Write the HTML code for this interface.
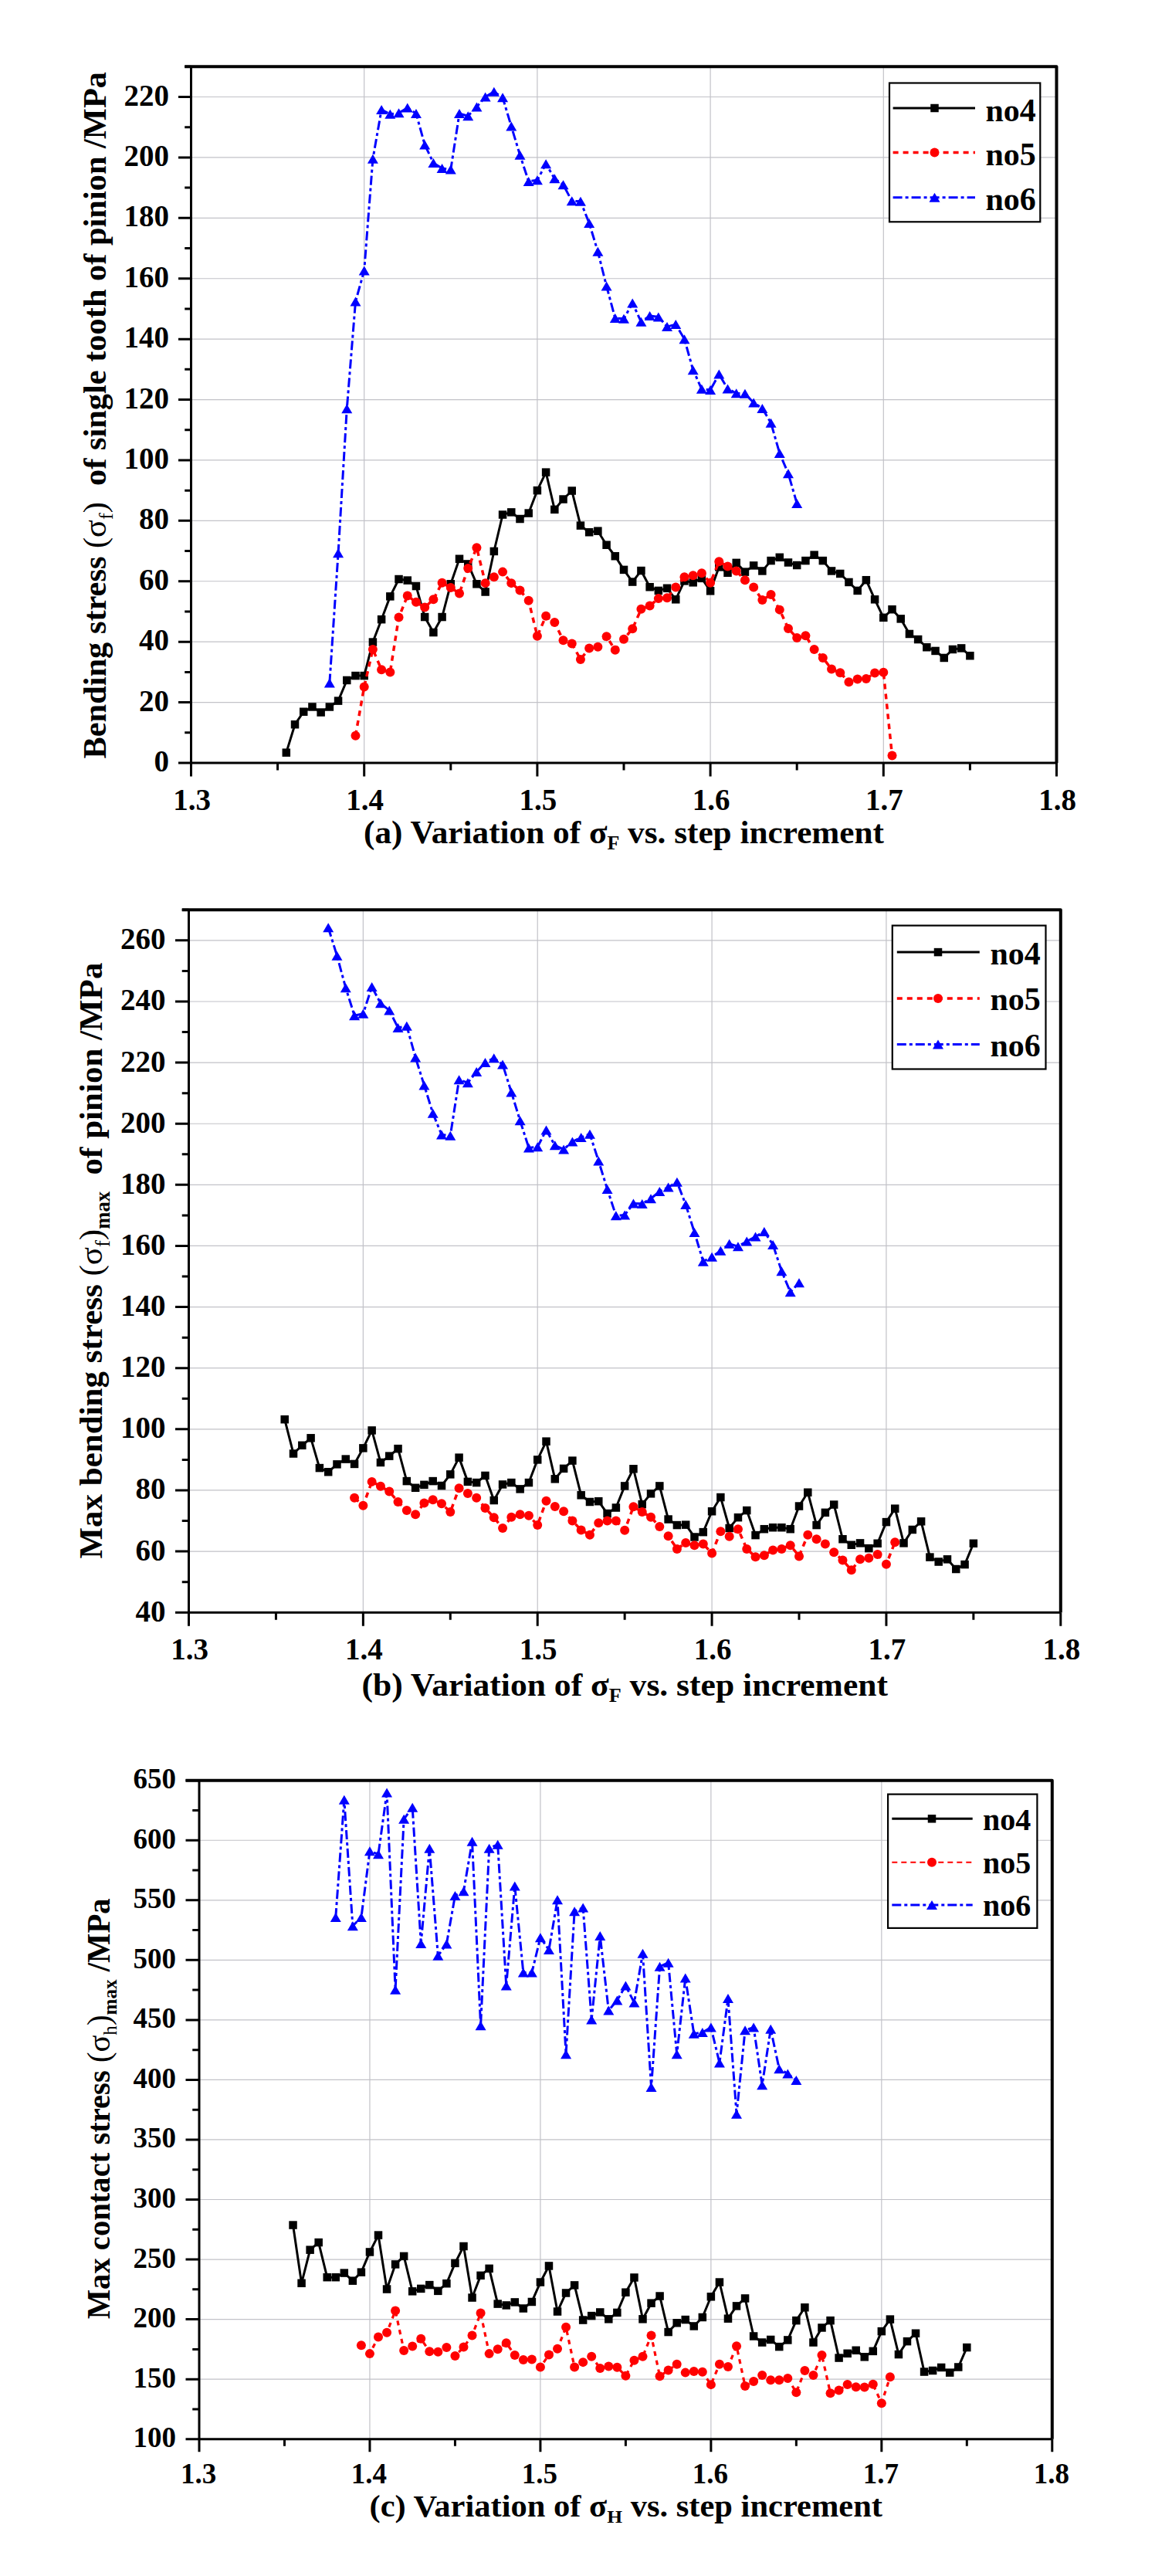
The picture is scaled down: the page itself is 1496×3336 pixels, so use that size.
<!DOCTYPE html><html><head><meta charset="utf-8"><title>Stress variation charts</title><style>html,body{margin:0;padding:0;background:#fff;}body{width:1496px;height:3336px;overflow:hidden;}svg{display:block;}</style></head><body><svg width="1496" height="3336" viewBox="0 0 1496 3336"><rect width="1496" height="3336" fill="#fff"/><path d="M471.7 86.3V988M695.9 86.3V988M920.1 86.3V988M1144.3 86.3V988M247.5 909.59H1368.5M247.5 831.18H1368.5M247.5 752.77H1368.5M247.5 674.37H1368.5M247.5 595.96H1368.5M247.5 517.55H1368.5M247.5 439.14H1368.5M247.5 360.73H1368.5M247.5 282.32H1368.5M247.5 203.91H1368.5M247.5 125.5H1368.5" stroke="#c2c2c8" stroke-width="1.2" fill="none"/>
<path d="M231 988H247.5M239.25 948.8H247.5M231 909.59H247.5M239.25 870.39H247.5M231 831.18H247.5M239.25 791.98H247.5M231 752.77H247.5M239.25 713.57H247.5M231 674.37H247.5M239.25 635.16H247.5M231 595.96H247.5M239.25 556.75H247.5M231 517.55H247.5M239.25 478.34H247.5M231 439.14H247.5M239.25 399.93H247.5M231 360.73H247.5M239.25 321.53H247.5M231 282.32H247.5M239.25 243.12H247.5M231 203.91H247.5M239.25 164.71H247.5M231 125.5H247.5M239.25 86.3H247.5M247.5 988V1005.5M359.6 988V997.62M471.7 988V1005.5M583.8 988V997.62M695.9 988V1005.5M808 988V997.62M920.1 988V1005.5M1032.2 988V997.62M1144.3 988V1005.5M1256.4 988V997.62M1368.5 988V1005.5" stroke="#000" stroke-width="3" fill="none"/>
<path d="M247.5 86.3V988M247.5 988H1368.5" stroke="#000" stroke-width="3" fill="none"/>
<path d="M239.25 86.3H1368.5V988" stroke="#000" stroke-width="4" fill="none" stroke-linejoin="round"/>
<g font-family='"Liberation Serif", serif' font-weight="bold" font-size="39"><text x="219" y="999" text-anchor="end">0</text><text x="219" y="920.59" text-anchor="end">20</text><text x="219" y="842.18" text-anchor="end">40</text><text x="219" y="763.77" text-anchor="end">60</text><text x="219" y="685.37" text-anchor="end">80</text><text x="219" y="606.96" text-anchor="end">100</text><text x="219" y="528.55" text-anchor="end">120</text><text x="219" y="450.14" text-anchor="end">140</text><text x="219" y="371.73" text-anchor="end">160</text><text x="219" y="293.32" text-anchor="end">180</text><text x="219" y="214.91" text-anchor="end">200</text><text x="219" y="136.5" text-anchor="end">220</text><text x="248.5" y="1048.5" text-anchor="middle">1.3</text><text x="472.7" y="1048.5" text-anchor="middle">1.4</text><text x="696.9" y="1048.5" text-anchor="middle">1.5</text><text x="921.1" y="1048.5" text-anchor="middle">1.6</text><text x="1145.3" y="1048.5" text-anchor="middle">1.7</text><text x="1369.5" y="1048.5" text-anchor="middle">1.8</text></g>
<path d="M370.81 974.67L382.02 938.21L393.23 921.74L404.44 915.47L415.65 922.53L426.86 915.47L438.07 907.63L449.28 880.97L460.49 875.09L471.7 875.09L482.91 831.57L494.12 802.17L505.33 772.38L516.54 750.03L527.75 751.6L538.96 759.05L550.17 799.04L561.38 819.03L572.59 799.04L583.8 756.3L595.01 723.76L606.22 730.43L617.43 756.3L628.64 766.5L639.85 713.96L651.06 666.52L662.27 663.39L673.48 672.01L684.69 664.56L695.9 635.16L707.11 611.64L718.32 659.86L729.53 646.53L740.74 635.55L751.95 680.64L763.16 689.26L774.37 687.69L785.58 705.73L796.79 720.23L808 737.88L819.21 753.56L830.42 739.05L841.63 760.22L852.84 764.93L864.05 761.79L875.26 776.3L886.47 752.38L897.68 754.34L908.89 748.85L920.1 765.32L931.31 734.35L942.52 741.8L953.73 728.86L964.94 740.62L976.15 732.39L987.36 739.44L998.57 726.11L1009.78 721.8L1020.99 728.47L1032.2 732L1043.41 726.11L1054.62 718.67L1065.83 726.11L1077.04 739.44L1088.25 742.97L1099.46 753.95L1110.67 764.93L1121.88 751.21L1133.09 776.3L1144.3 799.82L1155.51 789.23L1166.72 801.39L1177.93 820.99L1189.14 828.05L1200.35 838.24L1211.56 842.94L1222.77 851.96L1233.98 840.98L1245.19 839.42L1256.4 849.22" stroke="#000" stroke-width="3" fill="none" stroke-linejoin="round"/>
<g><rect x="365.56" y="969.42" width="10.5" height="10.5" fill="#000"/><rect x="376.77" y="932.96" width="10.5" height="10.5" fill="#000"/><rect x="387.98" y="916.49" width="10.5" height="10.5" fill="#000"/><rect x="399.19" y="910.22" width="10.5" height="10.5" fill="#000"/><rect x="410.4" y="917.28" width="10.5" height="10.5" fill="#000"/><rect x="421.61" y="910.22" width="10.5" height="10.5" fill="#000"/><rect x="432.82" y="902.38" width="10.5" height="10.5" fill="#000"/><rect x="444.03" y="875.72" width="10.5" height="10.5" fill="#000"/><rect x="455.24" y="869.84" width="10.5" height="10.5" fill="#000"/><rect x="466.45" y="869.84" width="10.5" height="10.5" fill="#000"/><rect x="477.66" y="826.32" width="10.5" height="10.5" fill="#000"/><rect x="488.87" y="796.92" width="10.5" height="10.5" fill="#000"/><rect x="500.08" y="767.13" width="10.5" height="10.5" fill="#000"/><rect x="511.29" y="744.78" width="10.5" height="10.5" fill="#000"/><rect x="522.5" y="746.35" width="10.5" height="10.5" fill="#000"/><rect x="533.71" y="753.8" width="10.5" height="10.5" fill="#000"/><rect x="544.92" y="793.79" width="10.5" height="10.5" fill="#000"/><rect x="556.13" y="813.78" width="10.5" height="10.5" fill="#000"/><rect x="567.34" y="793.79" width="10.5" height="10.5" fill="#000"/><rect x="578.55" y="751.05" width="10.5" height="10.5" fill="#000"/><rect x="589.76" y="718.51" width="10.5" height="10.5" fill="#000"/><rect x="600.97" y="725.18" width="10.5" height="10.5" fill="#000"/><rect x="612.18" y="751.05" width="10.5" height="10.5" fill="#000"/><rect x="623.39" y="761.25" width="10.5" height="10.5" fill="#000"/><rect x="634.6" y="708.71" width="10.5" height="10.5" fill="#000"/><rect x="645.81" y="661.27" width="10.5" height="10.5" fill="#000"/><rect x="657.02" y="658.14" width="10.5" height="10.5" fill="#000"/><rect x="668.23" y="666.76" width="10.5" height="10.5" fill="#000"/><rect x="679.44" y="659.31" width="10.5" height="10.5" fill="#000"/><rect x="690.65" y="629.91" width="10.5" height="10.5" fill="#000"/><rect x="701.86" y="606.39" width="10.5" height="10.5" fill="#000"/><rect x="713.07" y="654.61" width="10.5" height="10.5" fill="#000"/><rect x="724.28" y="641.28" width="10.5" height="10.5" fill="#000"/><rect x="735.49" y="630.3" width="10.5" height="10.5" fill="#000"/><rect x="746.7" y="675.39" width="10.5" height="10.5" fill="#000"/><rect x="757.91" y="684.01" width="10.5" height="10.5" fill="#000"/><rect x="769.12" y="682.44" width="10.5" height="10.5" fill="#000"/><rect x="780.33" y="700.48" width="10.5" height="10.5" fill="#000"/><rect x="791.54" y="714.98" width="10.5" height="10.5" fill="#000"/><rect x="802.75" y="732.63" width="10.5" height="10.5" fill="#000"/><rect x="813.96" y="748.31" width="10.5" height="10.5" fill="#000"/><rect x="825.17" y="733.8" width="10.5" height="10.5" fill="#000"/><rect x="836.38" y="754.97" width="10.5" height="10.5" fill="#000"/><rect x="847.59" y="759.68" width="10.5" height="10.5" fill="#000"/><rect x="858.8" y="756.54" width="10.5" height="10.5" fill="#000"/><rect x="870.01" y="771.05" width="10.5" height="10.5" fill="#000"/><rect x="881.22" y="747.13" width="10.5" height="10.5" fill="#000"/><rect x="892.43" y="749.09" width="10.5" height="10.5" fill="#000"/><rect x="903.64" y="743.6" width="10.5" height="10.5" fill="#000"/><rect x="914.85" y="760.07" width="10.5" height="10.5" fill="#000"/><rect x="926.06" y="729.1" width="10.5" height="10.5" fill="#000"/><rect x="937.27" y="736.55" width="10.5" height="10.5" fill="#000"/><rect x="948.48" y="723.61" width="10.5" height="10.5" fill="#000"/><rect x="959.69" y="735.37" width="10.5" height="10.5" fill="#000"/><rect x="970.9" y="727.14" width="10.5" height="10.5" fill="#000"/><rect x="982.11" y="734.19" width="10.5" height="10.5" fill="#000"/><rect x="993.32" y="720.86" width="10.5" height="10.5" fill="#000"/><rect x="1004.53" y="716.55" width="10.5" height="10.5" fill="#000"/><rect x="1015.74" y="723.22" width="10.5" height="10.5" fill="#000"/><rect x="1026.95" y="726.75" width="10.5" height="10.5" fill="#000"/><rect x="1038.16" y="720.86" width="10.5" height="10.5" fill="#000"/><rect x="1049.37" y="713.42" width="10.5" height="10.5" fill="#000"/><rect x="1060.58" y="720.86" width="10.5" height="10.5" fill="#000"/><rect x="1071.79" y="734.19" width="10.5" height="10.5" fill="#000"/><rect x="1083" y="737.72" width="10.5" height="10.5" fill="#000"/><rect x="1094.21" y="748.7" width="10.5" height="10.5" fill="#000"/><rect x="1105.42" y="759.68" width="10.5" height="10.5" fill="#000"/><rect x="1116.63" y="745.96" width="10.5" height="10.5" fill="#000"/><rect x="1127.84" y="771.05" width="10.5" height="10.5" fill="#000"/><rect x="1139.05" y="794.57" width="10.5" height="10.5" fill="#000"/><rect x="1150.26" y="783.98" width="10.5" height="10.5" fill="#000"/><rect x="1161.47" y="796.14" width="10.5" height="10.5" fill="#000"/><rect x="1172.68" y="815.74" width="10.5" height="10.5" fill="#000"/><rect x="1183.89" y="822.8" width="10.5" height="10.5" fill="#000"/><rect x="1195.1" y="832.99" width="10.5" height="10.5" fill="#000"/><rect x="1206.31" y="837.69" width="10.5" height="10.5" fill="#000"/><rect x="1217.52" y="846.71" width="10.5" height="10.5" fill="#000"/><rect x="1228.73" y="835.73" width="10.5" height="10.5" fill="#000"/><rect x="1239.94" y="834.17" width="10.5" height="10.5" fill="#000"/><rect x="1251.15" y="843.97" width="10.5" height="10.5" fill="#000"/></g>
<path d="M460.49 952.72L471.7 889.6L482.91 840.98L494.12 867.25L505.33 870.39L516.54 799.43L527.75 771.59L538.96 779.82L550.17 786.49L561.38 776.3L572.59 754.73L583.8 761.01L595.01 768.46L606.22 735.92L617.43 709.26L628.64 755.13L639.85 747.29L651.06 740.62L662.27 755.13L673.48 764.54L684.69 777.86L695.9 823.73L707.11 797.86L718.32 806.09L729.53 829.22L740.74 833.53L751.95 853.92L763.16 839.42L774.37 837.85L785.58 824.13L796.79 841.77L808 827.65L819.21 814.32L830.42 788.84L841.63 784.53L852.84 775.12L864.05 774.34L875.26 760.61L886.47 747.29L897.68 745.33L908.89 742.19L920.1 754.73L931.31 727.29L942.52 733.56L953.73 739.44L964.94 751.21L976.15 760.61L987.36 777.08L998.57 770.02L1009.78 789.63L1020.99 813.93L1032.2 826.09L1043.41 823.34L1054.62 840.98L1065.83 851.96L1077.04 866.47L1088.25 871.17L1099.46 883.32L1110.67 879.4L1121.88 879.01L1133.09 871.56L1144.3 870.78L1155.51 978.59" stroke="#f00" stroke-width="3.5" stroke-dasharray="7 6" fill="none"/>
<g><circle cx="460.49" cy="952.72" r="6" fill="#f00"/><circle cx="471.7" cy="889.6" r="6" fill="#f00"/><circle cx="482.91" cy="840.98" r="6" fill="#f00"/><circle cx="494.12" cy="867.25" r="6" fill="#f00"/><circle cx="505.33" cy="870.39" r="6" fill="#f00"/><circle cx="516.54" cy="799.43" r="6" fill="#f00"/><circle cx="527.75" cy="771.59" r="6" fill="#f00"/><circle cx="538.96" cy="779.82" r="6" fill="#f00"/><circle cx="550.17" cy="786.49" r="6" fill="#f00"/><circle cx="561.38" cy="776.3" r="6" fill="#f00"/><circle cx="572.59" cy="754.73" r="6" fill="#f00"/><circle cx="583.8" cy="761.01" r="6" fill="#f00"/><circle cx="595.01" cy="768.46" r="6" fill="#f00"/><circle cx="606.22" cy="735.92" r="6" fill="#f00"/><circle cx="617.43" cy="709.26" r="6" fill="#f00"/><circle cx="628.64" cy="755.13" r="6" fill="#f00"/><circle cx="639.85" cy="747.29" r="6" fill="#f00"/><circle cx="651.06" cy="740.62" r="6" fill="#f00"/><circle cx="662.27" cy="755.13" r="6" fill="#f00"/><circle cx="673.48" cy="764.54" r="6" fill="#f00"/><circle cx="684.69" cy="777.86" r="6" fill="#f00"/><circle cx="695.9" cy="823.73" r="6" fill="#f00"/><circle cx="707.11" cy="797.86" r="6" fill="#f00"/><circle cx="718.32" cy="806.09" r="6" fill="#f00"/><circle cx="729.53" cy="829.22" r="6" fill="#f00"/><circle cx="740.74" cy="833.53" r="6" fill="#f00"/><circle cx="751.95" cy="853.92" r="6" fill="#f00"/><circle cx="763.16" cy="839.42" r="6" fill="#f00"/><circle cx="774.37" cy="837.85" r="6" fill="#f00"/><circle cx="785.58" cy="824.13" r="6" fill="#f00"/><circle cx="796.79" cy="841.77" r="6" fill="#f00"/><circle cx="808" cy="827.65" r="6" fill="#f00"/><circle cx="819.21" cy="814.32" r="6" fill="#f00"/><circle cx="830.42" cy="788.84" r="6" fill="#f00"/><circle cx="841.63" cy="784.53" r="6" fill="#f00"/><circle cx="852.84" cy="775.12" r="6" fill="#f00"/><circle cx="864.05" cy="774.34" r="6" fill="#f00"/><circle cx="875.26" cy="760.61" r="6" fill="#f00"/><circle cx="886.47" cy="747.29" r="6" fill="#f00"/><circle cx="897.68" cy="745.33" r="6" fill="#f00"/><circle cx="908.89" cy="742.19" r="6" fill="#f00"/><circle cx="920.1" cy="754.73" r="6" fill="#f00"/><circle cx="931.31" cy="727.29" r="6" fill="#f00"/><circle cx="942.52" cy="733.56" r="6" fill="#f00"/><circle cx="953.73" cy="739.44" r="6" fill="#f00"/><circle cx="964.94" cy="751.21" r="6" fill="#f00"/><circle cx="976.15" cy="760.61" r="6" fill="#f00"/><circle cx="987.36" cy="777.08" r="6" fill="#f00"/><circle cx="998.57" cy="770.02" r="6" fill="#f00"/><circle cx="1009.78" cy="789.63" r="6" fill="#f00"/><circle cx="1020.99" cy="813.93" r="6" fill="#f00"/><circle cx="1032.2" cy="826.09" r="6" fill="#f00"/><circle cx="1043.41" cy="823.34" r="6" fill="#f00"/><circle cx="1054.62" cy="840.98" r="6" fill="#f00"/><circle cx="1065.83" cy="851.96" r="6" fill="#f00"/><circle cx="1077.04" cy="866.47" r="6" fill="#f00"/><circle cx="1088.25" cy="871.17" r="6" fill="#f00"/><circle cx="1099.46" cy="883.32" r="6" fill="#f00"/><circle cx="1110.67" cy="879.4" r="6" fill="#f00"/><circle cx="1121.88" cy="879.01" r="6" fill="#f00"/><circle cx="1133.09" cy="871.56" r="6" fill="#f00"/><circle cx="1144.3" cy="870.78" r="6" fill="#f00"/><circle cx="1155.51" cy="978.59" r="6" fill="#f00"/></g>
<path d="M426.86 884.5L438.07 716.31L449.28 529.31L460.49 390.53L471.7 350.54L482.91 205.87L494.12 141.97L505.33 147.85L516.54 146.28L527.75 139.62L538.96 147.07L550.17 187.45L561.38 210.97L572.59 218.03L583.8 219.59L595.01 147.07L606.22 150.2L617.43 138.44L628.64 125.5L639.85 118.84L651.06 126.29L662.27 163.53L673.48 200.78L684.69 234.88L695.9 233.32L707.11 212.15L718.32 231.36L729.53 239.2L740.74 260.37L751.95 260.76L763.16 288.99L774.37 325.84L785.58 370.53L796.79 412.09L808 412.87L819.21 392.49L830.42 416.79L841.63 408.95L852.84 410.52L864.05 423.07L875.26 419.93L886.47 439.14L897.68 479.13L908.89 503.83L920.1 505L931.31 484.62L942.52 503.43L953.73 509.31L964.94 509.71L976.15 521.47L987.36 528.92L998.57 547.74L1009.78 586.94L1020.99 613.21L1032.2 652.02" stroke="#00f" stroke-width="3" stroke-dasharray="12 4 4 4" fill="none"/>
<g><path d="M426.86 878.5L433.86 890.5L419.86 890.5Z" fill="#00f"/><path d="M438.07 710.31L445.07 722.31L431.07 722.31Z" fill="#00f"/><path d="M449.28 523.31L456.28 535.31L442.28 535.31Z" fill="#00f"/><path d="M460.49 384.53L467.49 396.53L453.49 396.53Z" fill="#00f"/><path d="M471.7 344.54L478.7 356.54L464.7 356.54Z" fill="#00f"/><path d="M482.91 199.87L489.91 211.87L475.91 211.87Z" fill="#00f"/><path d="M494.12 135.97L501.12 147.97L487.12 147.97Z" fill="#00f"/><path d="M505.33 141.85L512.33 153.85L498.33 153.85Z" fill="#00f"/><path d="M516.54 140.28L523.54 152.28L509.54 152.28Z" fill="#00f"/><path d="M527.75 133.62L534.75 145.62L520.75 145.62Z" fill="#00f"/><path d="M538.96 141.07L545.96 153.07L531.96 153.07Z" fill="#00f"/><path d="M550.17 181.45L557.17 193.45L543.17 193.45Z" fill="#00f"/><path d="M561.38 204.97L568.38 216.97L554.38 216.97Z" fill="#00f"/><path d="M572.59 212.03L579.59 224.03L565.59 224.03Z" fill="#00f"/><path d="M583.8 213.59L590.8 225.59L576.8 225.59Z" fill="#00f"/><path d="M595.01 141.07L602.01 153.07L588.01 153.07Z" fill="#00f"/><path d="M606.22 144.2L613.22 156.2L599.22 156.2Z" fill="#00f"/><path d="M617.43 132.44L624.43 144.44L610.43 144.44Z" fill="#00f"/><path d="M628.64 119.5L635.64 131.5L621.64 131.5Z" fill="#00f"/><path d="M639.85 112.84L646.85 124.84L632.85 124.84Z" fill="#00f"/><path d="M651.06 120.29L658.06 132.29L644.06 132.29Z" fill="#00f"/><path d="M662.27 157.53L669.27 169.53L655.27 169.53Z" fill="#00f"/><path d="M673.48 194.78L680.48 206.78L666.48 206.78Z" fill="#00f"/><path d="M684.69 228.88L691.69 240.88L677.69 240.88Z" fill="#00f"/><path d="M695.9 227.32L702.9 239.32L688.9 239.32Z" fill="#00f"/><path d="M707.11 206.15L714.11 218.15L700.11 218.15Z" fill="#00f"/><path d="M718.32 225.36L725.32 237.36L711.32 237.36Z" fill="#00f"/><path d="M729.53 233.2L736.53 245.2L722.53 245.2Z" fill="#00f"/><path d="M740.74 254.37L747.74 266.37L733.74 266.37Z" fill="#00f"/><path d="M751.95 254.76L758.95 266.76L744.95 266.76Z" fill="#00f"/><path d="M763.16 282.99L770.16 294.99L756.16 294.99Z" fill="#00f"/><path d="M774.37 319.84L781.37 331.84L767.37 331.84Z" fill="#00f"/><path d="M785.58 364.53L792.58 376.53L778.58 376.53Z" fill="#00f"/><path d="M796.79 406.09L803.79 418.09L789.79 418.09Z" fill="#00f"/><path d="M808 406.87L815 418.87L801 418.87Z" fill="#00f"/><path d="M819.21 386.49L826.21 398.49L812.21 398.49Z" fill="#00f"/><path d="M830.42 410.79L837.42 422.79L823.42 422.79Z" fill="#00f"/><path d="M841.63 402.95L848.63 414.95L834.63 414.95Z" fill="#00f"/><path d="M852.84 404.52L859.84 416.52L845.84 416.52Z" fill="#00f"/><path d="M864.05 417.07L871.05 429.07L857.05 429.07Z" fill="#00f"/><path d="M875.26 413.93L882.26 425.93L868.26 425.93Z" fill="#00f"/><path d="M886.47 433.14L893.47 445.14L879.47 445.14Z" fill="#00f"/><path d="M897.68 473.13L904.68 485.13L890.68 485.13Z" fill="#00f"/><path d="M908.89 497.83L915.89 509.83L901.89 509.83Z" fill="#00f"/><path d="M920.1 499L927.1 511L913.1 511Z" fill="#00f"/><path d="M931.31 478.62L938.31 490.62L924.31 490.62Z" fill="#00f"/><path d="M942.52 497.43L949.52 509.43L935.52 509.43Z" fill="#00f"/><path d="M953.73 503.31L960.73 515.31L946.73 515.31Z" fill="#00f"/><path d="M964.94 503.71L971.94 515.71L957.94 515.71Z" fill="#00f"/><path d="M976.15 515.47L983.15 527.47L969.15 527.47Z" fill="#00f"/><path d="M987.36 522.92L994.36 534.92L980.36 534.92Z" fill="#00f"/><path d="M998.57 541.74L1005.57 553.74L991.57 553.74Z" fill="#00f"/><path d="M1009.78 580.94L1016.78 592.94L1002.78 592.94Z" fill="#00f"/><path d="M1020.99 607.21L1027.99 619.21L1013.99 619.21Z" fill="#00f"/><path d="M1032.2 646.02L1039.2 658.02L1025.2 658.02Z" fill="#00f"/></g>
<rect x="1152" y="107.5" width="195.3" height="179.8" fill="#fff" stroke="#000" stroke-width="2.2"/>
<path d="M1156.6 140L1263 140" stroke="#000" stroke-width="3" fill="none" stroke-linejoin="round"/>
<rect x="1205.25" y="134.75" width="10.5" height="10.5" fill="#000"/>
<text x="1276.5" y="156.6" font-family='"Liberation Serif", serif' font-weight="bold" font-size="42">no4</text>
<path d="M1156.6 197.5L1263 197.5" stroke="#f00" stroke-width="3.5" stroke-dasharray="7 6" fill="none"/>
<circle cx="1210.5" cy="197.5" r="6" fill="#f00"/>
<text x="1276.5" y="213.8" font-family='"Liberation Serif", serif' font-weight="bold" font-size="42">no5</text>
<path d="M1156.6 255.7L1263 255.7" stroke="#00f" stroke-width="3" stroke-dasharray="12 4 4 4" fill="none"/>
<path d="M1210.5 249.7L1217.5 261.7L1203.5 261.7Z" fill="#00f"/>
<text x="1276.5" y="271.7" font-family='"Liberation Serif", serif' font-weight="bold" font-size="42">no6</text>
<text transform="translate(136.5 982.5) rotate(-90)" x="0" y="0" font-family='"Liberation Serif", serif' font-size="42" textLength="889.5" lengthAdjust="spacingAndGlyphs" xml:space="preserve"><tspan font-weight="bold" font-size="42">Bending stress </tspan><tspan font-weight="normal" font-size="42">(σ</tspan><tspan font-weight="normal" font-size="26.0" dy="9.2">f</tspan><tspan font-weight="normal" font-size="42" dy="-9.2">)</tspan><tspan font-weight="bold" font-size="42">  of single tooth of pinion /MPa</tspan></text>
<text x="471" y="1092" font-family='"Liberation Serif", serif' font-weight="bold" font-size="42" textLength="674" lengthAdjust="spacingAndGlyphs" xml:space="preserve"><tspan font-size="42">(a) Variation of σ</tspan><tspan font-size="25.2" dy="8.4">F</tspan><tspan font-size="42" dy="-8.4"> vs. step increment</tspan></text>
<path d="M470.36 1178.3V2088.2M696.22 1178.3V2088.2M922.08 1178.3V2088.2M1147.94 1178.3V2088.2M244.5 2009.08H1373.8M244.5 1929.96H1373.8M244.5 1850.83H1373.8M244.5 1771.71H1373.8M244.5 1692.59H1373.8M244.5 1613.47H1373.8M244.5 1534.35H1373.8M244.5 1455.23H1373.8M244.5 1376.1H1373.8M244.5 1296.98H1373.8M244.5 1217.86H1373.8" stroke="#c2c2c8" stroke-width="1.2" fill="none"/>
<path d="M227 2088.2H244.5M235.75 2048.64H244.5M227 2009.08H244.5M235.75 1969.52H244.5M227 1929.96H244.5M235.75 1890.4H244.5M227 1850.83H244.5M235.75 1811.27H244.5M227 1771.71H244.5M235.75 1732.15H244.5M227 1692.59H244.5M235.75 1653.03H244.5M227 1613.47H244.5M235.75 1573.91H244.5M227 1534.35H244.5M235.75 1494.79H244.5M227 1455.23H244.5M235.75 1415.67H244.5M227 1376.1H244.5M235.75 1336.54H244.5M227 1296.98H244.5M235.75 1257.42H244.5M227 1217.86H244.5M235.75 1178.3H244.5M244.5 2088.2V2105.7M357.43 2088.2V2097.82M470.36 2088.2V2105.7M583.29 2088.2V2097.82M696.22 2088.2V2105.7M809.15 2088.2V2097.82M922.08 2088.2V2105.7M1035.01 2088.2V2097.82M1147.94 2088.2V2105.7M1260.87 2088.2V2097.82M1373.8 2088.2V2105.7" stroke="#000" stroke-width="3" fill="none"/>
<path d="M244.5 1178.3V2088.2M244.5 2088.2H1373.8" stroke="#000" stroke-width="3" fill="none"/>
<path d="M235.75 1178.3H1373.8V2088.2" stroke="#000" stroke-width="4" fill="none" stroke-linejoin="round"/>
<g font-family='"Liberation Serif", serif' font-weight="bold" font-size="39"><text x="214.5" y="2099.7" text-anchor="end">40</text><text x="214.5" y="2020.58" text-anchor="end">60</text><text x="214.5" y="1941.46" text-anchor="end">80</text><text x="214.5" y="1862.33" text-anchor="end">100</text><text x="214.5" y="1783.21" text-anchor="end">120</text><text x="214.5" y="1704.09" text-anchor="end">140</text><text x="214.5" y="1624.97" text-anchor="end">160</text><text x="214.5" y="1545.85" text-anchor="end">180</text><text x="214.5" y="1466.73" text-anchor="end">200</text><text x="214.5" y="1387.6" text-anchor="end">220</text><text x="214.5" y="1308.48" text-anchor="end">240</text><text x="214.5" y="1229.36" text-anchor="end">260</text><text x="245.5" y="2148.6" text-anchor="middle">1.3</text><text x="471.36" y="2148.6" text-anchor="middle">1.4</text><text x="697.22" y="2148.6" text-anchor="middle">1.5</text><text x="923.08" y="2148.6" text-anchor="middle">1.6</text><text x="1148.94" y="2148.6" text-anchor="middle">1.7</text><text x="1374.8" y="2148.6" text-anchor="middle">1.8</text></g>
<path d="M368.72 1838.18L380.02 1882.48L391.31 1871.8L402.6 1862.31L413.89 1901.08L425.19 1906.22L436.48 1896.33L447.77 1889.6L459.07 1895.93L470.36 1875.36L481.65 1852.42L492.95 1893.96L504.24 1885.65L515.53 1876.15L526.83 1918.09L538.12 1926.79L549.41 1922.84L560.7 1918.09L572 1924.02L583.29 1909.38L594.58 1887.63L605.88 1918.88L617.17 1920.07L628.46 1910.97L639.76 1943.01L651.05 1922.44L662.34 1920.07L673.63 1928.37L684.93 1920.07L696.22 1890.4L707.51 1866.66L718.81 1915.32L730.1 1901.87L741.39 1891.58L752.68 1936.29L763.98 1944.99L775.27 1944.2L786.56 1960.02L797.86 1952.51L809.15 1924.42L820.44 1902.26L831.74 1948.15L843.03 1934.31L854.32 1924.42L865.61 1967.54L876.91 1975.06L888.2 1974.66L899.49 1990.48L910.79 1984.15L922.08 1957.25L933.37 1939.06L944.67 1979.01L955.96 1965.17L967.25 1956.07L978.54 1988.11L989.84 1980.2L1001.13 1978.22L1012.42 1978.22L1023.72 1980.2L1035.01 1950.53L1046.3 1932.73L1057.6 1975.06L1068.89 1958.84L1080.18 1948.55L1091.47 1993.25L1102.77 2000.77L1114.06 1998.4L1125.35 2005.12L1136.65 1998.79L1147.94 1971.1L1159.23 1953.69L1170.53 1998.4L1181.82 1980.99L1193.11 1970.31L1204.41 2016.59L1215.7 2022.53L1226.99 2019.36L1238.28 2032.02L1249.58 2026.09L1260.87 1998.79" stroke="#000" stroke-width="3" fill="none" stroke-linejoin="round"/>
<g><rect x="363.47" y="1832.93" width="10.5" height="10.5" fill="#000"/><rect x="374.77" y="1877.23" width="10.5" height="10.5" fill="#000"/><rect x="386.06" y="1866.55" width="10.5" height="10.5" fill="#000"/><rect x="397.35" y="1857.06" width="10.5" height="10.5" fill="#000"/><rect x="408.64" y="1895.83" width="10.5" height="10.5" fill="#000"/><rect x="419.94" y="1900.97" width="10.5" height="10.5" fill="#000"/><rect x="431.23" y="1891.08" width="10.5" height="10.5" fill="#000"/><rect x="442.52" y="1884.35" width="10.5" height="10.5" fill="#000"/><rect x="453.82" y="1890.68" width="10.5" height="10.5" fill="#000"/><rect x="465.11" y="1870.11" width="10.5" height="10.5" fill="#000"/><rect x="476.4" y="1847.17" width="10.5" height="10.5" fill="#000"/><rect x="487.7" y="1888.71" width="10.5" height="10.5" fill="#000"/><rect x="498.99" y="1880.4" width="10.5" height="10.5" fill="#000"/><rect x="510.28" y="1870.9" width="10.5" height="10.5" fill="#000"/><rect x="521.58" y="1912.84" width="10.5" height="10.5" fill="#000"/><rect x="532.87" y="1921.54" width="10.5" height="10.5" fill="#000"/><rect x="544.16" y="1917.59" width="10.5" height="10.5" fill="#000"/><rect x="555.45" y="1912.84" width="10.5" height="10.5" fill="#000"/><rect x="566.75" y="1918.77" width="10.5" height="10.5" fill="#000"/><rect x="578.04" y="1904.13" width="10.5" height="10.5" fill="#000"/><rect x="589.33" y="1882.38" width="10.5" height="10.5" fill="#000"/><rect x="600.63" y="1913.63" width="10.5" height="10.5" fill="#000"/><rect x="611.92" y="1914.82" width="10.5" height="10.5" fill="#000"/><rect x="623.21" y="1905.72" width="10.5" height="10.5" fill="#000"/><rect x="634.51" y="1937.76" width="10.5" height="10.5" fill="#000"/><rect x="645.8" y="1917.19" width="10.5" height="10.5" fill="#000"/><rect x="657.09" y="1914.82" width="10.5" height="10.5" fill="#000"/><rect x="668.38" y="1923.12" width="10.5" height="10.5" fill="#000"/><rect x="679.68" y="1914.82" width="10.5" height="10.5" fill="#000"/><rect x="690.97" y="1885.15" width="10.5" height="10.5" fill="#000"/><rect x="702.26" y="1861.41" width="10.5" height="10.5" fill="#000"/><rect x="713.56" y="1910.07" width="10.5" height="10.5" fill="#000"/><rect x="724.85" y="1896.62" width="10.5" height="10.5" fill="#000"/><rect x="736.14" y="1886.33" width="10.5" height="10.5" fill="#000"/><rect x="747.43" y="1931.04" width="10.5" height="10.5" fill="#000"/><rect x="758.73" y="1939.74" width="10.5" height="10.5" fill="#000"/><rect x="770.02" y="1938.95" width="10.5" height="10.5" fill="#000"/><rect x="781.31" y="1954.77" width="10.5" height="10.5" fill="#000"/><rect x="792.61" y="1947.26" width="10.5" height="10.5" fill="#000"/><rect x="803.9" y="1919.17" width="10.5" height="10.5" fill="#000"/><rect x="815.19" y="1897.01" width="10.5" height="10.5" fill="#000"/><rect x="826.49" y="1942.9" width="10.5" height="10.5" fill="#000"/><rect x="837.78" y="1929.06" width="10.5" height="10.5" fill="#000"/><rect x="849.07" y="1919.17" width="10.5" height="10.5" fill="#000"/><rect x="860.36" y="1962.29" width="10.5" height="10.5" fill="#000"/><rect x="871.66" y="1969.81" width="10.5" height="10.5" fill="#000"/><rect x="882.95" y="1969.41" width="10.5" height="10.5" fill="#000"/><rect x="894.24" y="1985.23" width="10.5" height="10.5" fill="#000"/><rect x="905.54" y="1978.9" width="10.5" height="10.5" fill="#000"/><rect x="916.83" y="1952" width="10.5" height="10.5" fill="#000"/><rect x="928.12" y="1933.81" width="10.5" height="10.5" fill="#000"/><rect x="939.42" y="1973.76" width="10.5" height="10.5" fill="#000"/><rect x="950.71" y="1959.92" width="10.5" height="10.5" fill="#000"/><rect x="962" y="1950.82" width="10.5" height="10.5" fill="#000"/><rect x="973.29" y="1982.86" width="10.5" height="10.5" fill="#000"/><rect x="984.59" y="1974.95" width="10.5" height="10.5" fill="#000"/><rect x="995.88" y="1972.97" width="10.5" height="10.5" fill="#000"/><rect x="1007.17" y="1972.97" width="10.5" height="10.5" fill="#000"/><rect x="1018.47" y="1974.95" width="10.5" height="10.5" fill="#000"/><rect x="1029.76" y="1945.28" width="10.5" height="10.5" fill="#000"/><rect x="1041.05" y="1927.48" width="10.5" height="10.5" fill="#000"/><rect x="1052.35" y="1969.81" width="10.5" height="10.5" fill="#000"/><rect x="1063.64" y="1953.59" width="10.5" height="10.5" fill="#000"/><rect x="1074.93" y="1943.3" width="10.5" height="10.5" fill="#000"/><rect x="1086.22" y="1988" width="10.5" height="10.5" fill="#000"/><rect x="1097.52" y="1995.52" width="10.5" height="10.5" fill="#000"/><rect x="1108.81" y="1993.15" width="10.5" height="10.5" fill="#000"/><rect x="1120.1" y="1999.87" width="10.5" height="10.5" fill="#000"/><rect x="1131.4" y="1993.54" width="10.5" height="10.5" fill="#000"/><rect x="1142.69" y="1965.85" width="10.5" height="10.5" fill="#000"/><rect x="1153.98" y="1948.44" width="10.5" height="10.5" fill="#000"/><rect x="1165.28" y="1993.15" width="10.5" height="10.5" fill="#000"/><rect x="1176.57" y="1975.74" width="10.5" height="10.5" fill="#000"/><rect x="1187.86" y="1965.06" width="10.5" height="10.5" fill="#000"/><rect x="1199.16" y="2011.34" width="10.5" height="10.5" fill="#000"/><rect x="1210.45" y="2017.28" width="10.5" height="10.5" fill="#000"/><rect x="1221.74" y="2014.11" width="10.5" height="10.5" fill="#000"/><rect x="1233.03" y="2026.77" width="10.5" height="10.5" fill="#000"/><rect x="1244.33" y="2020.84" width="10.5" height="10.5" fill="#000"/><rect x="1255.62" y="1993.54" width="10.5" height="10.5" fill="#000"/></g>
<path d="M459.07 1939.85L470.36 1949.74L481.65 1918.88L492.95 1924.81L504.24 1931.54L515.53 1944.99L526.83 1956.07L538.12 1961.21L549.41 1946.57L560.7 1942.22L572 1947.36L583.29 1958.04L594.58 1927.19L605.88 1933.91L617.17 1939.85L628.46 1952.9L639.76 1965.17L651.05 1979.01L662.34 1964.77L673.63 1961.21L684.93 1962.79L696.22 1975.06L707.51 1943.8L718.81 1950.92L730.1 1957.25L741.39 1969.52L752.68 1981.39L763.98 1987.72L775.27 1972.29L786.56 1969.52L797.86 1969.52L809.15 1981.78L820.44 1951.32L831.74 1958.04L843.03 1964.77L854.32 1977.03L865.61 1989.3L876.91 2005.91L888.2 1998L899.49 2001.17L910.79 1999.58L922.08 2011.45L933.37 1983.36L944.67 1989.69L955.96 1980.2L967.25 2005.91L978.54 2016.2L989.84 2014.22L1001.13 2007.5L1012.42 2005.91L1023.72 2001.17L1035.01 2015.41L1046.3 1987.72L1057.6 1993.25L1068.89 1999.58L1080.18 2010.27L1091.47 2020.55L1102.77 2033.21L1114.06 2019.36L1125.35 2017.78L1136.65 2013.03L1147.94 2025.69L1159.23 1997.21" stroke="#f00" stroke-width="3.5" stroke-dasharray="7 6" fill="none"/>
<g><circle cx="459.07" cy="1939.85" r="6" fill="#f00"/><circle cx="470.36" cy="1949.74" r="6" fill="#f00"/><circle cx="481.65" cy="1918.88" r="6" fill="#f00"/><circle cx="492.95" cy="1924.81" r="6" fill="#f00"/><circle cx="504.24" cy="1931.54" r="6" fill="#f00"/><circle cx="515.53" cy="1944.99" r="6" fill="#f00"/><circle cx="526.83" cy="1956.07" r="6" fill="#f00"/><circle cx="538.12" cy="1961.21" r="6" fill="#f00"/><circle cx="549.41" cy="1946.57" r="6" fill="#f00"/><circle cx="560.7" cy="1942.22" r="6" fill="#f00"/><circle cx="572" cy="1947.36" r="6" fill="#f00"/><circle cx="583.29" cy="1958.04" r="6" fill="#f00"/><circle cx="594.58" cy="1927.19" r="6" fill="#f00"/><circle cx="605.88" cy="1933.91" r="6" fill="#f00"/><circle cx="617.17" cy="1939.85" r="6" fill="#f00"/><circle cx="628.46" cy="1952.9" r="6" fill="#f00"/><circle cx="639.76" cy="1965.17" r="6" fill="#f00"/><circle cx="651.05" cy="1979.01" r="6" fill="#f00"/><circle cx="662.34" cy="1964.77" r="6" fill="#f00"/><circle cx="673.63" cy="1961.21" r="6" fill="#f00"/><circle cx="684.93" cy="1962.79" r="6" fill="#f00"/><circle cx="696.22" cy="1975.06" r="6" fill="#f00"/><circle cx="707.51" cy="1943.8" r="6" fill="#f00"/><circle cx="718.81" cy="1950.92" r="6" fill="#f00"/><circle cx="730.1" cy="1957.25" r="6" fill="#f00"/><circle cx="741.39" cy="1969.52" r="6" fill="#f00"/><circle cx="752.68" cy="1981.39" r="6" fill="#f00"/><circle cx="763.98" cy="1987.72" r="6" fill="#f00"/><circle cx="775.27" cy="1972.29" r="6" fill="#f00"/><circle cx="786.56" cy="1969.52" r="6" fill="#f00"/><circle cx="797.86" cy="1969.52" r="6" fill="#f00"/><circle cx="809.15" cy="1981.78" r="6" fill="#f00"/><circle cx="820.44" cy="1951.32" r="6" fill="#f00"/><circle cx="831.74" cy="1958.04" r="6" fill="#f00"/><circle cx="843.03" cy="1964.77" r="6" fill="#f00"/><circle cx="854.32" cy="1977.03" r="6" fill="#f00"/><circle cx="865.61" cy="1989.3" r="6" fill="#f00"/><circle cx="876.91" cy="2005.91" r="6" fill="#f00"/><circle cx="888.2" cy="1998" r="6" fill="#f00"/><circle cx="899.49" cy="2001.17" r="6" fill="#f00"/><circle cx="910.79" cy="1999.58" r="6" fill="#f00"/><circle cx="922.08" cy="2011.45" r="6" fill="#f00"/><circle cx="933.37" cy="1983.36" r="6" fill="#f00"/><circle cx="944.67" cy="1989.69" r="6" fill="#f00"/><circle cx="955.96" cy="1980.2" r="6" fill="#f00"/><circle cx="967.25" cy="2005.91" r="6" fill="#f00"/><circle cx="978.54" cy="2016.2" r="6" fill="#f00"/><circle cx="989.84" cy="2014.22" r="6" fill="#f00"/><circle cx="1001.13" cy="2007.5" r="6" fill="#f00"/><circle cx="1012.42" cy="2005.91" r="6" fill="#f00"/><circle cx="1023.72" cy="2001.17" r="6" fill="#f00"/><circle cx="1035.01" cy="2015.41" r="6" fill="#f00"/><circle cx="1046.3" cy="1987.72" r="6" fill="#f00"/><circle cx="1057.6" cy="1993.25" r="6" fill="#f00"/><circle cx="1068.89" cy="1999.58" r="6" fill="#f00"/><circle cx="1080.18" cy="2010.27" r="6" fill="#f00"/><circle cx="1091.47" cy="2020.55" r="6" fill="#f00"/><circle cx="1102.77" cy="2033.21" r="6" fill="#f00"/><circle cx="1114.06" cy="2019.36" r="6" fill="#f00"/><circle cx="1125.35" cy="2017.78" r="6" fill="#f00"/><circle cx="1136.65" cy="2013.03" r="6" fill="#f00"/><circle cx="1147.94" cy="2025.69" r="6" fill="#f00"/><circle cx="1159.23" cy="1997.21" r="6" fill="#f00"/></g>
<path d="M425.19 1201.25L436.48 1237.64L447.77 1279.18L459.07 1315.18L470.36 1312.81L481.65 1277.99L492.95 1299.36L504.24 1308.46L515.53 1331L526.82 1328.63L538.12 1369.38L549.41 1405.38L560.7 1441.78L572 1469.47L583.29 1470.65L594.58 1398.26L605.88 1402.21L617.17 1387.97L628.46 1376.1L639.75 1370.17L651.05 1378.48L662.34 1414.48L673.63 1451.27L684.93 1486.48L696.22 1485.29L707.51 1463.53L718.81 1483.31L730.1 1488.46L741.39 1478.57L752.68 1473.03L763.98 1468.68L775.27 1503.49L786.56 1539.89L797.86 1574.3L809.15 1573.51L820.44 1558.48L831.74 1558.88L843.03 1552.15L854.32 1543.05L865.61 1537.51L876.91 1530.79L888.2 1560.06L899.49 1596.06L910.79 1633.65L922.08 1627.71L933.37 1619.8L944.67 1610.7L955.96 1614.26L967.25 1607.54L978.54 1601.6L989.84 1594.88L1001.13 1611.89L1012.42 1646.31L1023.72 1673.21L1035.01 1661.34" stroke="#00f" stroke-width="3" stroke-dasharray="12 4 4 4" fill="none"/>
<g><path d="M425.19 1195.25L432.19 1207.25L418.19 1207.25Z" fill="#00f"/><path d="M436.48 1231.64L443.48 1243.64L429.48 1243.64Z" fill="#00f"/><path d="M447.77 1273.18L454.77 1285.18L440.77 1285.18Z" fill="#00f"/><path d="M459.07 1309.18L466.07 1321.18L452.07 1321.18Z" fill="#00f"/><path d="M470.36 1306.81L477.36 1318.81L463.36 1318.81Z" fill="#00f"/><path d="M481.65 1271.99L488.65 1283.99L474.65 1283.99Z" fill="#00f"/><path d="M492.95 1293.36L499.95 1305.36L485.95 1305.36Z" fill="#00f"/><path d="M504.24 1302.46L511.24 1314.46L497.24 1314.46Z" fill="#00f"/><path d="M515.53 1325L522.53 1337L508.53 1337Z" fill="#00f"/><path d="M526.82 1322.63L533.82 1334.63L519.82 1334.63Z" fill="#00f"/><path d="M538.12 1363.38L545.12 1375.38L531.12 1375.38Z" fill="#00f"/><path d="M549.41 1399.38L556.41 1411.38L542.41 1411.38Z" fill="#00f"/><path d="M560.7 1435.78L567.7 1447.78L553.7 1447.78Z" fill="#00f"/><path d="M572 1463.47L579 1475.47L565 1475.47Z" fill="#00f"/><path d="M583.29 1464.65L590.29 1476.65L576.29 1476.65Z" fill="#00f"/><path d="M594.58 1392.26L601.58 1404.26L587.58 1404.26Z" fill="#00f"/><path d="M605.88 1396.21L612.88 1408.21L598.88 1408.21Z" fill="#00f"/><path d="M617.17 1381.97L624.17 1393.97L610.17 1393.97Z" fill="#00f"/><path d="M628.46 1370.1L635.46 1382.1L621.46 1382.1Z" fill="#00f"/><path d="M639.75 1364.17L646.75 1376.17L632.75 1376.17Z" fill="#00f"/><path d="M651.05 1372.48L658.05 1384.48L644.05 1384.48Z" fill="#00f"/><path d="M662.34 1408.48L669.34 1420.48L655.34 1420.48Z" fill="#00f"/><path d="M673.63 1445.27L680.63 1457.27L666.63 1457.27Z" fill="#00f"/><path d="M684.93 1480.48L691.93 1492.48L677.93 1492.48Z" fill="#00f"/><path d="M696.22 1479.29L703.22 1491.29L689.22 1491.29Z" fill="#00f"/><path d="M707.51 1457.53L714.51 1469.53L700.51 1469.53Z" fill="#00f"/><path d="M718.81 1477.31L725.81 1489.31L711.81 1489.31Z" fill="#00f"/><path d="M730.1 1482.46L737.1 1494.46L723.1 1494.46Z" fill="#00f"/><path d="M741.39 1472.57L748.39 1484.57L734.39 1484.57Z" fill="#00f"/><path d="M752.68 1467.03L759.68 1479.03L745.68 1479.03Z" fill="#00f"/><path d="M763.98 1462.68L770.98 1474.68L756.98 1474.68Z" fill="#00f"/><path d="M775.27 1497.49L782.27 1509.49L768.27 1509.49Z" fill="#00f"/><path d="M786.56 1533.89L793.56 1545.89L779.56 1545.89Z" fill="#00f"/><path d="M797.86 1568.3L804.86 1580.3L790.86 1580.3Z" fill="#00f"/><path d="M809.15 1567.51L816.15 1579.51L802.15 1579.51Z" fill="#00f"/><path d="M820.44 1552.48L827.44 1564.48L813.44 1564.48Z" fill="#00f"/><path d="M831.74 1552.88L838.74 1564.88L824.74 1564.88Z" fill="#00f"/><path d="M843.03 1546.15L850.03 1558.15L836.03 1558.15Z" fill="#00f"/><path d="M854.32 1537.05L861.32 1549.05L847.32 1549.05Z" fill="#00f"/><path d="M865.61 1531.51L872.61 1543.51L858.61 1543.51Z" fill="#00f"/><path d="M876.91 1524.79L883.91 1536.79L869.91 1536.79Z" fill="#00f"/><path d="M888.2 1554.06L895.2 1566.06L881.2 1566.06Z" fill="#00f"/><path d="M899.49 1590.06L906.49 1602.06L892.49 1602.06Z" fill="#00f"/><path d="M910.79 1627.65L917.79 1639.65L903.79 1639.65Z" fill="#00f"/><path d="M922.08 1621.71L929.08 1633.71L915.08 1633.71Z" fill="#00f"/><path d="M933.37 1613.8L940.37 1625.8L926.37 1625.8Z" fill="#00f"/><path d="M944.67 1604.7L951.67 1616.7L937.67 1616.7Z" fill="#00f"/><path d="M955.96 1608.26L962.96 1620.26L948.96 1620.26Z" fill="#00f"/><path d="M967.25 1601.54L974.25 1613.54L960.25 1613.54Z" fill="#00f"/><path d="M978.54 1595.6L985.54 1607.6L971.54 1607.6Z" fill="#00f"/><path d="M989.84 1588.88L996.84 1600.88L982.84 1600.88Z" fill="#00f"/><path d="M1001.13 1605.89L1008.13 1617.89L994.13 1617.89Z" fill="#00f"/><path d="M1012.42 1640.31L1019.42 1652.31L1005.42 1652.31Z" fill="#00f"/><path d="M1023.72 1667.21L1030.72 1679.21L1016.72 1679.21Z" fill="#00f"/><path d="M1035.01 1655.34L1042.01 1667.34L1028.01 1667.34Z" fill="#00f"/></g>
<rect x="1155.8" y="1198.6" width="198.7" height="185.9" fill="#fff" stroke="#000" stroke-width="2.2"/>
<path d="M1161.8 1233.1L1268.8 1233.1" stroke="#000" stroke-width="3" fill="none" stroke-linejoin="round"/>
<rect x="1209.75" y="1227.85" width="10.5" height="10.5" fill="#000"/>
<text x="1282.5" y="1248.7" font-family='"Liberation Serif", serif' font-weight="bold" font-size="42">no4</text>
<path d="M1161.8 1292.9L1268.8 1292.9" stroke="#f00" stroke-width="3.5" stroke-dasharray="7 6" fill="none"/>
<circle cx="1215" cy="1292.9" r="6" fill="#f00"/>
<text x="1282.5" y="1308" font-family='"Liberation Serif", serif' font-weight="bold" font-size="42">no5</text>
<path d="M1161.8 1352.6L1268.8 1352.6" stroke="#00f" stroke-width="3" stroke-dasharray="12 4 4 4" fill="none"/>
<path d="M1215 1346.6L1222 1358.6L1208 1358.6Z" fill="#00f"/>
<text x="1282.5" y="1367.7" font-family='"Liberation Serif", serif' font-weight="bold" font-size="42">no6</text>
<text transform="translate(132 2018.5) rotate(-90)" x="0" y="0" font-family='"Liberation Serif", serif' font-size="43" textLength="771.9" lengthAdjust="spacingAndGlyphs" xml:space="preserve"><tspan font-weight="bold" font-size="43">Max bending stress </tspan><tspan font-weight="normal" font-size="43">(σ</tspan><tspan font-weight="normal" font-size="26.7" dy="9.5">f</tspan><tspan font-weight="normal" font-size="43" dy="-9.5">)</tspan><tspan font-weight="bold" font-size="26.7" dy="9.5">max</tspan><tspan font-weight="bold" font-size="43" dy="-9.5">  of pinion /MPa</tspan></text>
<text x="468.5" y="2195.5" font-family='"Liberation Serif", serif' font-weight="bold" font-size="43" textLength="681.5" lengthAdjust="spacingAndGlyphs" xml:space="preserve"><tspan font-size="43">(b) Variation of σ</tspan><tspan font-size="25.8" dy="8.6">F</tspan><tspan font-size="43" dy="-8.6"> vs. step increment</tspan></text>
<path d="M478.96 2305.7V3158.7M699.92 2305.7V3158.7M920.88 2305.7V3158.7M1141.84 2305.7V3158.7M258 3081.15H1362.8M258 3003.61H1362.8M258 2926.06H1362.8M258 2848.52H1362.8M258 2770.97H1362.8M258 2693.43H1362.8M258 2615.88H1362.8M258 2538.34H1362.8M258 2460.79H1362.8M258 2383.25H1362.8" stroke="#c2c2c8" stroke-width="1.2" fill="none"/>
<path d="M240.5 3158.7H258M249.25 3119.93H258M240.5 3081.15H258M249.25 3042.38H258M240.5 3003.61H258M249.25 2964.84H258M240.5 2926.06H258M249.25 2887.29H258M240.5 2848.52H258M249.25 2809.75H258M240.5 2770.97H258M249.25 2732.2H258M240.5 2693.43H258M249.25 2654.65H258M240.5 2615.88H258M249.25 2577.11H258M240.5 2538.34H258M249.25 2499.56H258M240.5 2460.79H258M249.25 2422.02H258M240.5 2383.25H258M249.25 2344.47H258M240.5 2305.7H258M258 3158.7V3175.2M368.48 3158.7V3167.77M478.96 3158.7V3175.2M589.44 3158.7V3167.77M699.92 3158.7V3175.2M810.4 3158.7V3167.77M920.88 3158.7V3175.2M1031.36 3158.7V3167.77M1141.84 3158.7V3175.2M1252.32 3158.7V3167.77M1362.8 3158.7V3175.2" stroke="#000" stroke-width="3" fill="none"/>
<path d="M258 2305.7V3158.7M258 3158.7H1362.8" stroke="#000" stroke-width="3" fill="none"/>
<path d="M240.5 2305.7H1362.8V3158.7" stroke="#000" stroke-width="4" fill="none" stroke-linejoin="round"/>
<g font-family='"Liberation Serif", serif' font-weight="bold" font-size="37"><text x="228" y="3169.2" text-anchor="end">100</text><text x="228" y="3091.65" text-anchor="end">150</text><text x="228" y="3014.11" text-anchor="end">200</text><text x="228" y="2936.56" text-anchor="end">250</text><text x="228" y="2859.02" text-anchor="end">300</text><text x="228" y="2781.47" text-anchor="end">350</text><text x="228" y="2703.93" text-anchor="end">400</text><text x="228" y="2626.38" text-anchor="end">450</text><text x="228" y="2548.84" text-anchor="end">500</text><text x="228" y="2471.29" text-anchor="end">550</text><text x="228" y="2393.75" text-anchor="end">600</text><text x="228" y="2316.2" text-anchor="end">650</text><text x="257" y="3215.7" text-anchor="middle">1.3</text><text x="477.96" y="3215.7" text-anchor="middle">1.4</text><text x="698.92" y="3215.7" text-anchor="middle">1.5</text><text x="919.88" y="3215.7" text-anchor="middle">1.6</text><text x="1140.84" y="3215.7" text-anchor="middle">1.7</text><text x="1361.8" y="3215.7" text-anchor="middle">1.8</text></g>
<path d="M379.53 2881.55L390.58 2956.77L401.62 2913.66L412.67 2904.04L423.72 2949.17L434.77 2949.17L445.82 2943.59L456.86 2953.67L467.91 2942.66L478.96 2916.45L490.01 2894.58L501.06 2964.53L512.1 2932.42L523.15 2921.88L534.2 2967.32L545.25 2963.91L556.3 2959.1L567.34 2966.85L578.39 2957.24L589.44 2930.87L600.49 2909L611.54 2975.54L622.58 2946.85L633.63 2937.85L644.68 2983.6L655.73 2985.46L666.78 2981.43L677.82 2989.5L688.87 2980.97L699.92 2955.53L710.97 2934.44L722.02 2993.53L733.06 2969.49L744.11 2959.41L755.16 3004.54L766.21 2999.11L777.26 2994.46L788.3 3003.3L799.35 2994.92L810.4 2968.71L821.45 2949.48L832.5 3003.3L843.54 2982.67L854.59 2973.52L865.64 3020.05L876.69 3008.26L887.74 3004.07L898.78 3012.45L909.83 3000.97L920.88 2974.3L931.93 2955.53L942.98 3002.68L954.02 2986.39L965.07 2976.47L976.12 3025.48L987.17 3033.54L998.22 3029.97L1009.26 3039.12L1020.31 3030.44L1031.36 3005.16L1042.41 2988.26L1053.46 3033.54L1064.5 3014.47L1075.55 3005.16L1086.6 3053.55L1097.65 3047.81L1108.7 3043.78L1119.74 3052.31L1130.79 3044.86L1141.84 3019.12L1152.89 3003.61L1163.94 3049.05L1174.98 3032.15L1186.03 3021.75L1197.08 3071.54L1208.13 3069.99L1219.18 3065.96L1230.22 3072.62L1241.27 3065.49L1252.32 3040.06" stroke="#000" stroke-width="3" fill="none" stroke-linejoin="round"/>
<g><rect x="374.28" y="2876.3" width="10.5" height="10.5" fill="#000"/><rect x="385.33" y="2951.52" width="10.5" height="10.5" fill="#000"/><rect x="396.37" y="2908.41" width="10.5" height="10.5" fill="#000"/><rect x="407.42" y="2898.79" width="10.5" height="10.5" fill="#000"/><rect x="418.47" y="2943.92" width="10.5" height="10.5" fill="#000"/><rect x="429.52" y="2943.92" width="10.5" height="10.5" fill="#000"/><rect x="440.57" y="2938.34" width="10.5" height="10.5" fill="#000"/><rect x="451.61" y="2948.42" width="10.5" height="10.5" fill="#000"/><rect x="462.66" y="2937.41" width="10.5" height="10.5" fill="#000"/><rect x="473.71" y="2911.2" width="10.5" height="10.5" fill="#000"/><rect x="484.76" y="2889.33" width="10.5" height="10.5" fill="#000"/><rect x="495.81" y="2959.28" width="10.5" height="10.5" fill="#000"/><rect x="506.85" y="2927.17" width="10.5" height="10.5" fill="#000"/><rect x="517.9" y="2916.63" width="10.5" height="10.5" fill="#000"/><rect x="528.95" y="2962.07" width="10.5" height="10.5" fill="#000"/><rect x="540" y="2958.66" width="10.5" height="10.5" fill="#000"/><rect x="551.05" y="2953.85" width="10.5" height="10.5" fill="#000"/><rect x="562.09" y="2961.6" width="10.5" height="10.5" fill="#000"/><rect x="573.14" y="2951.99" width="10.5" height="10.5" fill="#000"/><rect x="584.19" y="2925.62" width="10.5" height="10.5" fill="#000"/><rect x="595.24" y="2903.75" width="10.5" height="10.5" fill="#000"/><rect x="606.29" y="2970.29" width="10.5" height="10.5" fill="#000"/><rect x="617.33" y="2941.6" width="10.5" height="10.5" fill="#000"/><rect x="628.38" y="2932.6" width="10.5" height="10.5" fill="#000"/><rect x="639.43" y="2978.35" width="10.5" height="10.5" fill="#000"/><rect x="650.48" y="2980.21" width="10.5" height="10.5" fill="#000"/><rect x="661.53" y="2976.18" width="10.5" height="10.5" fill="#000"/><rect x="672.57" y="2984.25" width="10.5" height="10.5" fill="#000"/><rect x="683.62" y="2975.72" width="10.5" height="10.5" fill="#000"/><rect x="694.67" y="2950.28" width="10.5" height="10.5" fill="#000"/><rect x="705.72" y="2929.19" width="10.5" height="10.5" fill="#000"/><rect x="716.77" y="2988.28" width="10.5" height="10.5" fill="#000"/><rect x="727.81" y="2964.24" width="10.5" height="10.5" fill="#000"/><rect x="738.86" y="2954.16" width="10.5" height="10.5" fill="#000"/><rect x="749.91" y="2999.29" width="10.5" height="10.5" fill="#000"/><rect x="760.96" y="2993.86" width="10.5" height="10.5" fill="#000"/><rect x="772.01" y="2989.21" width="10.5" height="10.5" fill="#000"/><rect x="783.05" y="2998.05" width="10.5" height="10.5" fill="#000"/><rect x="794.1" y="2989.67" width="10.5" height="10.5" fill="#000"/><rect x="805.15" y="2963.46" width="10.5" height="10.5" fill="#000"/><rect x="816.2" y="2944.23" width="10.5" height="10.5" fill="#000"/><rect x="827.25" y="2998.05" width="10.5" height="10.5" fill="#000"/><rect x="838.29" y="2977.42" width="10.5" height="10.5" fill="#000"/><rect x="849.34" y="2968.27" width="10.5" height="10.5" fill="#000"/><rect x="860.39" y="3014.8" width="10.5" height="10.5" fill="#000"/><rect x="871.44" y="3003.01" width="10.5" height="10.5" fill="#000"/><rect x="882.49" y="2998.82" width="10.5" height="10.5" fill="#000"/><rect x="893.53" y="3007.2" width="10.5" height="10.5" fill="#000"/><rect x="904.58" y="2995.72" width="10.5" height="10.5" fill="#000"/><rect x="915.63" y="2969.05" width="10.5" height="10.5" fill="#000"/><rect x="926.68" y="2950.28" width="10.5" height="10.5" fill="#000"/><rect x="937.73" y="2997.43" width="10.5" height="10.5" fill="#000"/><rect x="948.77" y="2981.14" width="10.5" height="10.5" fill="#000"/><rect x="959.82" y="2971.22" width="10.5" height="10.5" fill="#000"/><rect x="970.87" y="3020.23" width="10.5" height="10.5" fill="#000"/><rect x="981.92" y="3028.29" width="10.5" height="10.5" fill="#000"/><rect x="992.97" y="3024.72" width="10.5" height="10.5" fill="#000"/><rect x="1004.01" y="3033.87" width="10.5" height="10.5" fill="#000"/><rect x="1015.06" y="3025.19" width="10.5" height="10.5" fill="#000"/><rect x="1026.11" y="2999.91" width="10.5" height="10.5" fill="#000"/><rect x="1037.16" y="2983.01" width="10.5" height="10.5" fill="#000"/><rect x="1048.21" y="3028.29" width="10.5" height="10.5" fill="#000"/><rect x="1059.25" y="3009.22" width="10.5" height="10.5" fill="#000"/><rect x="1070.3" y="2999.91" width="10.5" height="10.5" fill="#000"/><rect x="1081.35" y="3048.3" width="10.5" height="10.5" fill="#000"/><rect x="1092.4" y="3042.56" width="10.5" height="10.5" fill="#000"/><rect x="1103.45" y="3038.53" width="10.5" height="10.5" fill="#000"/><rect x="1114.49" y="3047.06" width="10.5" height="10.5" fill="#000"/><rect x="1125.54" y="3039.61" width="10.5" height="10.5" fill="#000"/><rect x="1136.59" y="3013.87" width="10.5" height="10.5" fill="#000"/><rect x="1147.64" y="2998.36" width="10.5" height="10.5" fill="#000"/><rect x="1158.69" y="3043.8" width="10.5" height="10.5" fill="#000"/><rect x="1169.73" y="3026.9" width="10.5" height="10.5" fill="#000"/><rect x="1180.78" y="3016.5" width="10.5" height="10.5" fill="#000"/><rect x="1191.83" y="3066.29" width="10.5" height="10.5" fill="#000"/><rect x="1202.88" y="3064.74" width="10.5" height="10.5" fill="#000"/><rect x="1213.93" y="3060.71" width="10.5" height="10.5" fill="#000"/><rect x="1224.97" y="3067.37" width="10.5" height="10.5" fill="#000"/><rect x="1236.02" y="3060.24" width="10.5" height="10.5" fill="#000"/><rect x="1247.07" y="3034.81" width="10.5" height="10.5" fill="#000"/></g>
<path d="M467.91 3037.26L478.96 3048.12L490.01 3026.41L501.06 3020.82L512.1 2992.44L523.15 3043.93L534.2 3038.5L545.25 3028.73L556.3 3045.17L567.34 3045.79L578.39 3040.06L589.44 3050.91L600.49 3039.59L611.54 3024.55L622.58 2995.54L633.63 3048.12L644.68 3042.23L655.73 3034.16L666.78 3049.98L677.82 3056.03L688.87 3055.56L699.92 3065.49L710.97 3049.52L722.02 3041.76L733.06 3013.85L744.11 3065.49L755.16 3059.13L766.21 3051.84L777.26 3066.89L788.3 3064.56L799.35 3065.8L810.4 3076.66L821.45 3056.65L832.5 3051.84L843.54 3024.55L854.59 3077.28L865.64 3069.52L876.69 3061.77L887.74 3072.62L898.78 3070.92L909.83 3071.85L920.88 3088.13L931.93 3061.77L942.98 3065.03L954.02 3038.19L965.07 3089.99L976.12 3083.95L987.17 3076.04L998.22 3082.24L1009.26 3082.24L1020.31 3080.07L1031.36 3098.21L1042.41 3069.99L1053.46 3076.04L1064.5 3049.98L1075.55 3099.15L1086.6 3095.42L1097.65 3087.98L1108.7 3091.24L1119.74 3091.39L1130.79 3087.82L1141.84 3112.17L1152.89 3078.21" stroke="#f00" stroke-width="3.2" stroke-dasharray="6 6" fill="none"/>
<g><circle cx="467.91" cy="3037.26" r="6" fill="#f00"/><circle cx="478.96" cy="3048.12" r="6" fill="#f00"/><circle cx="490.01" cy="3026.41" r="6" fill="#f00"/><circle cx="501.06" cy="3020.82" r="6" fill="#f00"/><circle cx="512.1" cy="2992.44" r="6" fill="#f00"/><circle cx="523.15" cy="3043.93" r="6" fill="#f00"/><circle cx="534.2" cy="3038.5" r="6" fill="#f00"/><circle cx="545.25" cy="3028.73" r="6" fill="#f00"/><circle cx="556.3" cy="3045.17" r="6" fill="#f00"/><circle cx="567.34" cy="3045.79" r="6" fill="#f00"/><circle cx="578.39" cy="3040.06" r="6" fill="#f00"/><circle cx="589.44" cy="3050.91" r="6" fill="#f00"/><circle cx="600.49" cy="3039.59" r="6" fill="#f00"/><circle cx="611.54" cy="3024.55" r="6" fill="#f00"/><circle cx="622.58" cy="2995.54" r="6" fill="#f00"/><circle cx="633.63" cy="3048.12" r="6" fill="#f00"/><circle cx="644.68" cy="3042.23" r="6" fill="#f00"/><circle cx="655.73" cy="3034.16" r="6" fill="#f00"/><circle cx="666.78" cy="3049.98" r="6" fill="#f00"/><circle cx="677.82" cy="3056.03" r="6" fill="#f00"/><circle cx="688.87" cy="3055.56" r="6" fill="#f00"/><circle cx="699.92" cy="3065.49" r="6" fill="#f00"/><circle cx="710.97" cy="3049.52" r="6" fill="#f00"/><circle cx="722.02" cy="3041.76" r="6" fill="#f00"/><circle cx="733.06" cy="3013.85" r="6" fill="#f00"/><circle cx="744.11" cy="3065.49" r="6" fill="#f00"/><circle cx="755.16" cy="3059.13" r="6" fill="#f00"/><circle cx="766.21" cy="3051.84" r="6" fill="#f00"/><circle cx="777.26" cy="3066.89" r="6" fill="#f00"/><circle cx="788.3" cy="3064.56" r="6" fill="#f00"/><circle cx="799.35" cy="3065.8" r="6" fill="#f00"/><circle cx="810.4" cy="3076.66" r="6" fill="#f00"/><circle cx="821.45" cy="3056.65" r="6" fill="#f00"/><circle cx="832.5" cy="3051.84" r="6" fill="#f00"/><circle cx="843.54" cy="3024.55" r="6" fill="#f00"/><circle cx="854.59" cy="3077.28" r="6" fill="#f00"/><circle cx="865.64" cy="3069.52" r="6" fill="#f00"/><circle cx="876.69" cy="3061.77" r="6" fill="#f00"/><circle cx="887.74" cy="3072.62" r="6" fill="#f00"/><circle cx="898.78" cy="3070.92" r="6" fill="#f00"/><circle cx="909.83" cy="3071.85" r="6" fill="#f00"/><circle cx="920.88" cy="3088.13" r="6" fill="#f00"/><circle cx="931.93" cy="3061.77" r="6" fill="#f00"/><circle cx="942.98" cy="3065.03" r="6" fill="#f00"/><circle cx="954.02" cy="3038.19" r="6" fill="#f00"/><circle cx="965.07" cy="3089.99" r="6" fill="#f00"/><circle cx="976.12" cy="3083.95" r="6" fill="#f00"/><circle cx="987.17" cy="3076.04" r="6" fill="#f00"/><circle cx="998.22" cy="3082.24" r="6" fill="#f00"/><circle cx="1009.26" cy="3082.24" r="6" fill="#f00"/><circle cx="1020.31" cy="3080.07" r="6" fill="#f00"/><circle cx="1031.36" cy="3098.21" r="6" fill="#f00"/><circle cx="1042.41" cy="3069.99" r="6" fill="#f00"/><circle cx="1053.46" cy="3076.04" r="6" fill="#f00"/><circle cx="1064.5" cy="3049.98" r="6" fill="#f00"/><circle cx="1075.55" cy="3099.15" r="6" fill="#f00"/><circle cx="1086.6" cy="3095.42" r="6" fill="#f00"/><circle cx="1097.65" cy="3087.98" r="6" fill="#f00"/><circle cx="1108.7" cy="3091.24" r="6" fill="#f00"/><circle cx="1119.74" cy="3091.39" r="6" fill="#f00"/><circle cx="1130.79" cy="3087.82" r="6" fill="#f00"/><circle cx="1141.84" cy="3112.17" r="6" fill="#f00"/><circle cx="1152.89" cy="3078.21" r="6" fill="#f00"/></g>
<path d="M434.77 2483.12L445.82 2330.82L456.86 2494.14L467.91 2483.12L478.96 2397.2L490.01 2401.24L501.06 2321.52L512.1 2576.64L523.15 2355.79L534.2 2340.75L545.25 2516.93L556.3 2393.64L567.34 2532.75L578.39 2517.4L589.44 2454.9L600.49 2449.16L611.54 2384.8L622.58 2623.33L633.63 2393.64L644.68 2388.67L655.73 2571.53L666.78 2442.49L677.82 2554.62L688.87 2554.62L699.92 2509.18L710.97 2525L722.02 2460.33L733.06 2660.24L744.11 2475.37L755.16 2470.41L766.21 2615.42L777.26 2507.01L788.3 2603.47L799.35 2590.45L810.4 2571.53L821.45 2593.55L832.5 2529.81L843.54 2703.04L854.59 2546.71L865.64 2541.75L876.69 2660.24L887.74 2561.6L898.78 2633.72L909.83 2632.01L920.88 2625.5L931.93 2671.4L942.98 2588.12L954.02 2737.63L965.07 2629.37L976.12 2625.5L987.17 2700.25L998.22 2627.82L1009.26 2679.16L1020.31 2685.52L1031.36 2694.05" stroke="#00f" stroke-width="3" stroke-dasharray="12 4 4 4" fill="none"/>
<g><path d="M434.77 2477.12L441.77 2489.12L427.77 2489.12Z" fill="#00f"/><path d="M445.82 2324.82L452.82 2336.82L438.82 2336.82Z" fill="#00f"/><path d="M456.86 2488.14L463.86 2500.14L449.86 2500.14Z" fill="#00f"/><path d="M467.91 2477.12L474.91 2489.12L460.91 2489.12Z" fill="#00f"/><path d="M478.96 2391.2L485.96 2403.2L471.96 2403.2Z" fill="#00f"/><path d="M490.01 2395.24L497.01 2407.24L483.01 2407.24Z" fill="#00f"/><path d="M501.06 2315.52L508.06 2327.52L494.06 2327.52Z" fill="#00f"/><path d="M512.1 2570.64L519.1 2582.64L505.1 2582.64Z" fill="#00f"/><path d="M523.15 2349.79L530.15 2361.79L516.15 2361.79Z" fill="#00f"/><path d="M534.2 2334.75L541.2 2346.75L527.2 2346.75Z" fill="#00f"/><path d="M545.25 2510.93L552.25 2522.93L538.25 2522.93Z" fill="#00f"/><path d="M556.3 2387.64L563.3 2399.64L549.3 2399.64Z" fill="#00f"/><path d="M567.34 2526.75L574.34 2538.75L560.34 2538.75Z" fill="#00f"/><path d="M578.39 2511.4L585.39 2523.4L571.39 2523.4Z" fill="#00f"/><path d="M589.44 2448.9L596.44 2460.9L582.44 2460.9Z" fill="#00f"/><path d="M600.49 2443.16L607.49 2455.16L593.49 2455.16Z" fill="#00f"/><path d="M611.54 2378.8L618.54 2390.8L604.54 2390.8Z" fill="#00f"/><path d="M622.58 2617.33L629.58 2629.33L615.58 2629.33Z" fill="#00f"/><path d="M633.63 2387.64L640.63 2399.64L626.63 2399.64Z" fill="#00f"/><path d="M644.68 2382.67L651.68 2394.67L637.68 2394.67Z" fill="#00f"/><path d="M655.73 2565.53L662.73 2577.53L648.73 2577.53Z" fill="#00f"/><path d="M666.78 2436.49L673.78 2448.49L659.78 2448.49Z" fill="#00f"/><path d="M677.82 2548.62L684.82 2560.62L670.82 2560.62Z" fill="#00f"/><path d="M688.87 2548.62L695.87 2560.62L681.87 2560.62Z" fill="#00f"/><path d="M699.92 2503.18L706.92 2515.18L692.92 2515.18Z" fill="#00f"/><path d="M710.97 2519L717.97 2531L703.97 2531Z" fill="#00f"/><path d="M722.02 2454.33L729.02 2466.33L715.02 2466.33Z" fill="#00f"/><path d="M733.06 2654.24L740.06 2666.24L726.06 2666.24Z" fill="#00f"/><path d="M744.11 2469.37L751.11 2481.37L737.11 2481.37Z" fill="#00f"/><path d="M755.16 2464.41L762.16 2476.41L748.16 2476.41Z" fill="#00f"/><path d="M766.21 2609.42L773.21 2621.42L759.21 2621.42Z" fill="#00f"/><path d="M777.26 2501.01L784.26 2513.01L770.26 2513.01Z" fill="#00f"/><path d="M788.3 2597.47L795.3 2609.47L781.3 2609.47Z" fill="#00f"/><path d="M799.35 2584.45L806.35 2596.45L792.35 2596.45Z" fill="#00f"/><path d="M810.4 2565.53L817.4 2577.53L803.4 2577.53Z" fill="#00f"/><path d="M821.45 2587.55L828.45 2599.55L814.45 2599.55Z" fill="#00f"/><path d="M832.5 2523.81L839.5 2535.81L825.5 2535.81Z" fill="#00f"/><path d="M843.54 2697.04L850.54 2709.04L836.54 2709.04Z" fill="#00f"/><path d="M854.59 2540.71L861.59 2552.71L847.59 2552.71Z" fill="#00f"/><path d="M865.64 2535.75L872.64 2547.75L858.64 2547.75Z" fill="#00f"/><path d="M876.69 2654.24L883.69 2666.24L869.69 2666.24Z" fill="#00f"/><path d="M887.74 2555.6L894.74 2567.6L880.74 2567.6Z" fill="#00f"/><path d="M898.78 2627.72L905.78 2639.72L891.78 2639.72Z" fill="#00f"/><path d="M909.83 2626.01L916.83 2638.01L902.83 2638.01Z" fill="#00f"/><path d="M920.88 2619.5L927.88 2631.5L913.88 2631.5Z" fill="#00f"/><path d="M931.93 2665.4L938.93 2677.4L924.93 2677.4Z" fill="#00f"/><path d="M942.98 2582.12L949.98 2594.12L935.98 2594.12Z" fill="#00f"/><path d="M954.02 2731.63L961.02 2743.63L947.02 2743.63Z" fill="#00f"/><path d="M965.07 2623.37L972.07 2635.37L958.07 2635.37Z" fill="#00f"/><path d="M976.12 2619.5L983.12 2631.5L969.12 2631.5Z" fill="#00f"/><path d="M987.17 2694.25L994.17 2706.25L980.17 2706.25Z" fill="#00f"/><path d="M998.22 2621.82L1005.22 2633.82L991.22 2633.82Z" fill="#00f"/><path d="M1009.26 2673.16L1016.26 2685.16L1002.26 2685.16Z" fill="#00f"/><path d="M1020.31 2679.52L1027.31 2691.52L1013.31 2691.52Z" fill="#00f"/><path d="M1031.36 2688.05L1038.36 2700.05L1024.36 2700.05Z" fill="#00f"/></g>
<rect x="1150.1" y="2323.6" width="193.3" height="173.3" fill="#fff" stroke="#000" stroke-width="2.2"/>
<path d="M1155.3 2355.3L1259.7 2355.3" stroke="#000" stroke-width="3" fill="none" stroke-linejoin="round"/>
<rect x="1201.75" y="2350.05" width="10.5" height="10.5" fill="#000"/>
<text x="1273" y="2369.6" font-family='"Liberation Serif", serif' font-weight="bold" font-size="40">no4</text>
<path d="M1155.3 2411.7L1259.7 2411.7" stroke="#f00" stroke-width="2" stroke-dasharray="7 5" fill="none"/>
<circle cx="1207" cy="2411.7" r="6" fill="#f00"/>
<text x="1273" y="2425.5" font-family='"Liberation Serif", serif' font-weight="bold" font-size="40">no5</text>
<path d="M1155.3 2467L1259.7 2467" stroke="#00f" stroke-width="3" stroke-dasharray="12 4 4 4" fill="none"/>
<path d="M1207 2461L1214 2473L1200 2473Z" fill="#00f"/>
<text x="1273" y="2481.3" font-family='"Liberation Serif", serif' font-weight="bold" font-size="40">no6</text>
<text transform="translate(142 3003.3) rotate(-90)" x="0" y="0" font-family='"Liberation Serif", serif' font-size="42" textLength="544.9" lengthAdjust="spacingAndGlyphs" xml:space="preserve"><tspan font-weight="bold" font-size="42">Max contact stress </tspan><tspan font-weight="normal" font-size="42">(σ</tspan><tspan font-weight="normal" font-size="26.0" dy="9.2">h</tspan><tspan font-weight="normal" font-size="42" dy="-9.2">)</tspan><tspan font-weight="bold" font-size="26.0" dy="9.2">max</tspan><tspan font-weight="bold" font-size="42" dy="-9.2"> /MPa</tspan></text>
<text x="478.5" y="3258.8" font-family='"Liberation Serif", serif' font-weight="bold" font-size="39" textLength="664.5" lengthAdjust="spacingAndGlyphs" xml:space="preserve"><tspan font-size="39">(c) Variation of σ</tspan><tspan font-size="23.4" dy="7.8">H</tspan><tspan font-size="39" dy="-7.8"> vs. step increment</tspan></text></svg></body></html>
